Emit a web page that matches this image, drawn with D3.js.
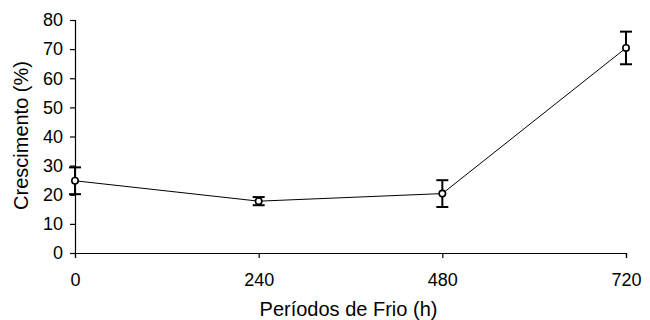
<!DOCTYPE html>
<meta charset="utf-8">
<style>
    body { margin: 0; background: #fff; }
    text { font-family: "Liberation Sans", Arial, sans-serif; }
</style>
<body>
<svg width="650" height="320"></svg>
</body>
<script src="https://d3js.org/d3.v7.min.js"></script>
<script>
    // chilling hours vs growth
    const periods = [0, 240, 480, 720];
    const growth = [24.8, 17.8, 20.4, 70.4];
    const errors = [4.6, 1.4, 4.6, 5.6];
    const yTicks = [0, 10, 20, 30, 40, 50, 60, 70, 80];

    const svg = d3.select("svg");
    const margin = {top: 20, right: 24, bottom: 67, left: 75};
    const width = 650 - margin.left - margin.right,
        height = 320 - margin.top - margin.bottom;

    const x = d3.scaleLinear().domain([0, 720]).range([0, width]);
    const y = d3.scaleLinear().domain([0, 80]).range([height, 0]);

    const g = svg.append("g")
        .attr("transform", "translate(" + margin.left + "," + margin.top + ")");

    const yAxis = g.append("g")
        .call(d3.axisLeft(y).tickValues(yTicks).tickSize(5).tickPadding(7));
    const xAxis = g.append("g")
        .attr("transform", "translate(0," + height + ")")
        .call(d3.axisBottom(x).tickValues(periods).tickSize(5).tickPadding(15));

    [xAxis, yAxis].forEach(a => {
        a.attr("font-size", null).attr("font-family", null);
        a.select(".domain").attr("stroke", "#000").attr("stroke-width", 1.2);
        a.selectAll(".tick line").attr("stroke", "#000").attr("stroke-width", 1.2);
        a.selectAll("text").attr("fill", "#000")
            .style("font-size", "18px")
            .style("font-family", "'Liberation Sans', Arial, sans-serif");
    });

    const pts = periods.map((p, i) => ({p: p, v: growth[i], e: errors[i]}));

    g.append("path")
        .datum(pts)
        .attr("fill", "none")
        .attr("stroke", "#000")
        .attr("stroke-width", 1)
        .attr("d", d3.line().x(d => x(d.p)).y(d => y(d.v)));

    const eb = g.append("g").attr("stroke", "#000").attr("stroke-width", 2);
    pts.forEach(d => {
        const cx = x(d.p);
        eb.append("line").attr("x1", cx).attr("x2", cx)
            .attr("y1", y(d.v - d.e)).attr("y2", y(d.v + d.e));
        eb.append("line").attr("x1", cx - 6).attr("x2", cx + 6)
            .attr("y1", y(d.v + d.e)).attr("y2", y(d.v + d.e));
        eb.append("line").attr("x1", cx - 6).attr("x2", cx + 6)
            .attr("y1", y(d.v - d.e)).attr("y2", y(d.v - d.e));
    });

    g.selectAll("circle")
        .data(pts)
        .enter().append("circle")
        .attr("cx", d => x(d.p))
        .attr("cy", d => y(d.v))
        .attr("r", 3.2)
        .attr("fill", "#fff")
        .attr("stroke", "#000")
        .attr("stroke-width", 1.6);

    g.append("text")
        .attr("x", width / 2 - 2)
        .attr("y", height + 63)
        .attr("text-anchor", "middle")
        .style("font-size", "20px")
        .text("Períodos de Frio (h)");

    g.append("text")
        .attr("transform", "translate(" + (-47) + "," + (height / 2 - 1) + ") rotate(-90)")
        .attr("text-anchor", "middle")
        .style("font-size", "20px")
        .text("Crescimento (%)");
</script>
